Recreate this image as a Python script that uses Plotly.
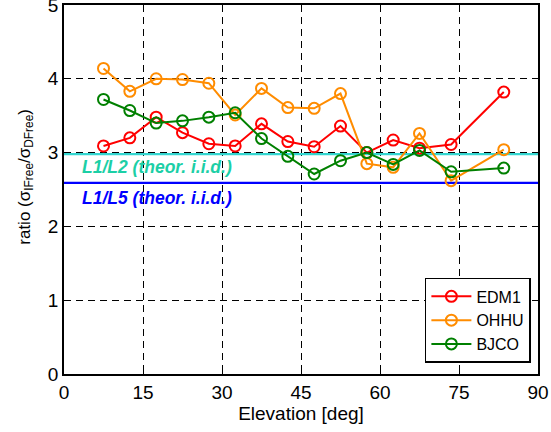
import plotly.graph_objects as go

# Elevation bin centres [deg]
elevation = [7.5, 12.5, 17.5, 22.5, 27.5, 32.5, 37.5, 42.5, 47.5, 52.5, 57.5, 62.5, 67.5, 73.5, 83.5]

# Ratio sigma_IFree / sigma_DFree per station
edm1 = [3.09, 3.20, 3.48, 3.27, 3.12, 3.09, 3.39, 3.15, 3.08, 3.36, 3.00, 3.17, 3.06, 3.11, 3.82]
ohhu = [4.14, 3.83, 4.00, 3.99, 3.94, 3.51, 3.87, 3.61, 3.60, 3.80, 2.85, 2.80, 3.26, 2.62, 3.04]
bjco = [3.72, 3.57, 3.40, 3.43, 3.48, 3.54, 3.19, 2.95, 2.71, 2.89, 3.00, 2.84, 3.03, 2.74, 2.79]

# Theoretical i.i.d. ratios
ratio_l1l2 = 2.98
ratio_l1l5 = 2.59

x_ticks = [0, 15, 30, 45, 60, 75, 90]
y_ticks = [0, 1, 2, 3, 4, 5]

FONT = "Liberation Sans, Arial, sans-serif"

fig = go.Figure()

# Theoretical reference lines across the full elevation range
fig.add_trace(go.Scatter(x=[0, 90], y=[ratio_l1l2, ratio_l1l2], mode="lines",
                         line=dict(color="#33d6d0", width=2.2), showlegend=False,
                         hoverinfo="skip"))
fig.add_trace(go.Scatter(x=[0, 90], y=[ratio_l1l5, ratio_l1l5], mode="lines",
                         line=dict(color="#0000ff", width=2.2), showlegend=False,
                         hoverinfo="skip"))

for name, vals, color in [("EDM1", edm1, "#ff0000"),
                          ("OHHU", ohhu, "#ff8c00"),
                          ("BJCO", bjco, "#008000")]:
    fig.add_trace(go.Scatter(
        x=elevation, y=vals, name=name, mode="lines+markers",
        line=dict(color=color, width=2),
        marker=dict(symbol="circle-open", size=11, color=color, line=dict(width=2)),
    ))

fig.add_annotation(x=3.0, y=ratio_l1l2 - 0.17, text="<b><i>L1/L2 (theor. i.i.d.)</i></b>",
                   showarrow=False, xanchor="left", yanchor="middle",
                   font=dict(family=FONT, size=17.5, color="#1ccfa6"))
fig.add_annotation(x=3.0, y=ratio_l1l5 - 0.20, text="<b><i>L1/L5 (theor. i.i.d.)</i></b>",
                   showarrow=False, xanchor="left", yanchor="middle",
                   font=dict(family=FONT, size=17.5, color="#0000ff"))

# Y-axis title, rotated, placed left of the tick labels
fig.add_annotation(xref="paper", yref="paper", x=-0.082, y=0.535,
                   text="ratio (σ<sub>IFree</sub>/σ<sub>DFree</sub>)", textangle=-90,
                   showarrow=False, xanchor="center", yanchor="middle",
                   font=dict(family=FONT, size=17, color="black"))

axis_common = dict(
    showline=True, linecolor="black", linewidth=1.5, mirror="ticks",
    ticks="inside", ticklen=5, tickcolor="black", tickwidth=1,
    showgrid=True, gridcolor="black", griddash="7px,5px", gridwidth=1,
    zeroline=False, tickfont=dict(family=FONT, size=19, color="black"),
    ticklabeloverflow="allow",
)

fig.update_xaxes(range=[0, 90], tickvals=x_ticks,
                 title=dict(text="Elevation [deg]", font=dict(family=FONT, size=19, color="black"),
                            standoff=0),
                 **axis_common)
fig.update_yaxes(range=[0, 5], tickvals=y_ticks, **axis_common)

fig.update_layout(
    width=551, height=432,
    margin=dict(l=64, r=13, t=5, b=58, autoexpand=False),
    paper_bgcolor="white", plot_bgcolor="white",
    font=dict(family=FONT, color="black"),
    legend=dict(x=0.985, y=0.03, xanchor="right", yanchor="bottom",
                bgcolor="white", bordercolor="black", borderwidth=1.5,
                font=dict(family=FONT, size=16, color="black"),
                tracegroupgap=0, itemwidth=40),
)

fig.write_html("out.html")
